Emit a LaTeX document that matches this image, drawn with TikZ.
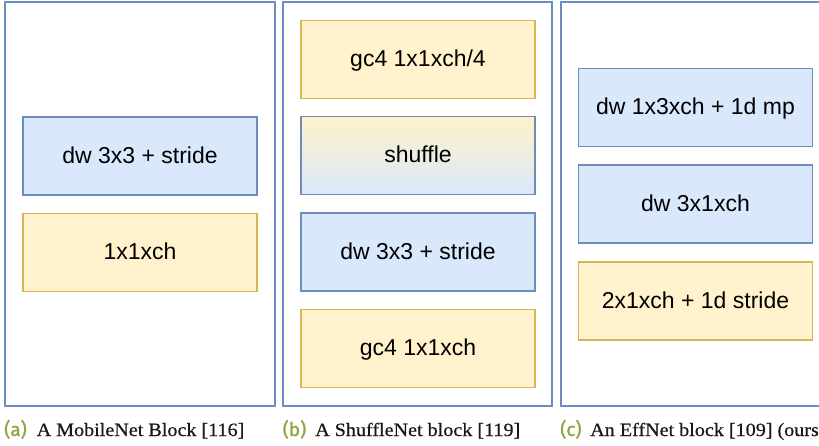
\documentclass[tikz,border=0pt]{standalone}
\usepackage{fontspec}
\setmainfont{Liberation Sans}
\newfontfamily\capfont[FakeStretch=1.07, FakeBold=0.6]{Liberation Serif}
\newfontfamily\tagfont[FakeBold=1.2]{Fira Sans}
\usetikzlibrary{positioning}
\definecolor{panelline}{HTML}{6C8EBF}
\definecolor{bluefill}{HTML}{DAE8FC}
\definecolor{blueline}{HTML}{6C8EBF}
\definecolor{yelfill}{HTML}{FFF2CC}
\definecolor{yelline}{HTML}{D6B656}
\definecolor{tagcol}{HTML}{8EA63D}
\tikzset{
  panel/.style={draw=panelline, line width=2pt},
  layer/.style={rectangle, minimum width=234pt, minimum height=78pt, inner sep=0pt,
    line width=1.3pt, font=\fontsize{23}{27}\selectfont, text height=17pt, text depth=2.4pt},
  bluebox/.style={layer, draw=blueline, fill=bluefill},
  yelbox/.style={layer, draw=yelline, fill=yelfill},
  mixbox/.style={layer, draw=blueline!85!gray, top color=yelfill, bottom color=bluefill},
  tag/.style={anchor=base west, inner sep=0pt, text=tagcol, font=\tagfont\fontsize{19}{21}\selectfont},
  captxt/.style={anchor=base west, inner sep=0pt, text=black!90, font=\capfont\fontsize{18.8}{21}\selectfont}
}
\begin{document}
\begin{tikzpicture}[x=1pt, y=-1pt]
  \useasboundingbox (0,0) rectangle (819,445);
  \clip (0,0) rectangle (819,445);

  % panel frames
  \draw[panel] (5,2) rectangle (275,406);
  \draw[panel] (283,2) rectangle (552,406);
  \draw[panel] (561,2) rectangle (830,406);

  % (a) MobileNet block
  \node[bluebox] (a1) at (140,156) {dw 3x3 + stride};
  \node[yelbox]  (a2) at (140,252.5) {1x1xch};

  % (b) ShuffleNet block
  \node[yelbox]  (b1) at (418,59.5) {gc4 1x1xch/4};
  \node[mixbox]  (b2) at (418,155.5) {shuffle};
  \node[bluebox] (b3) at (418,252) {dw 3x3 + stride};
  \node[yelbox]  (b4) at (418,348.5) {gc4 1x1xch};

  % (c) EffNet block
  \node[bluebox] (c1) at (695.5,107.5) {dw 1x3xch + 1d mp};
  \node[bluebox] (c2) at (695.5,204) {dw 3x1xch};
  \node[yelbox]  (c3) at (695.5,301) {2x1xch + 1d stride};

  % sub-captions
  \node[tag]    (ta) at (4,436) {(a)};
  \node[captxt] (ca) at (36.5,436) {A MobileNet Block [116]};
  \node[tag]    (tb) at (282.5,436) {(b)};
  \node[captxt] (cb) at (315,436) {A ShuffleNet block [119]};
  \node[tag]    (tc) at (560,436) {(c)};
  \node[captxt] (cc) at (590,436) {An EffNet block [109] (ours)};
\end{tikzpicture}
\end{document}
